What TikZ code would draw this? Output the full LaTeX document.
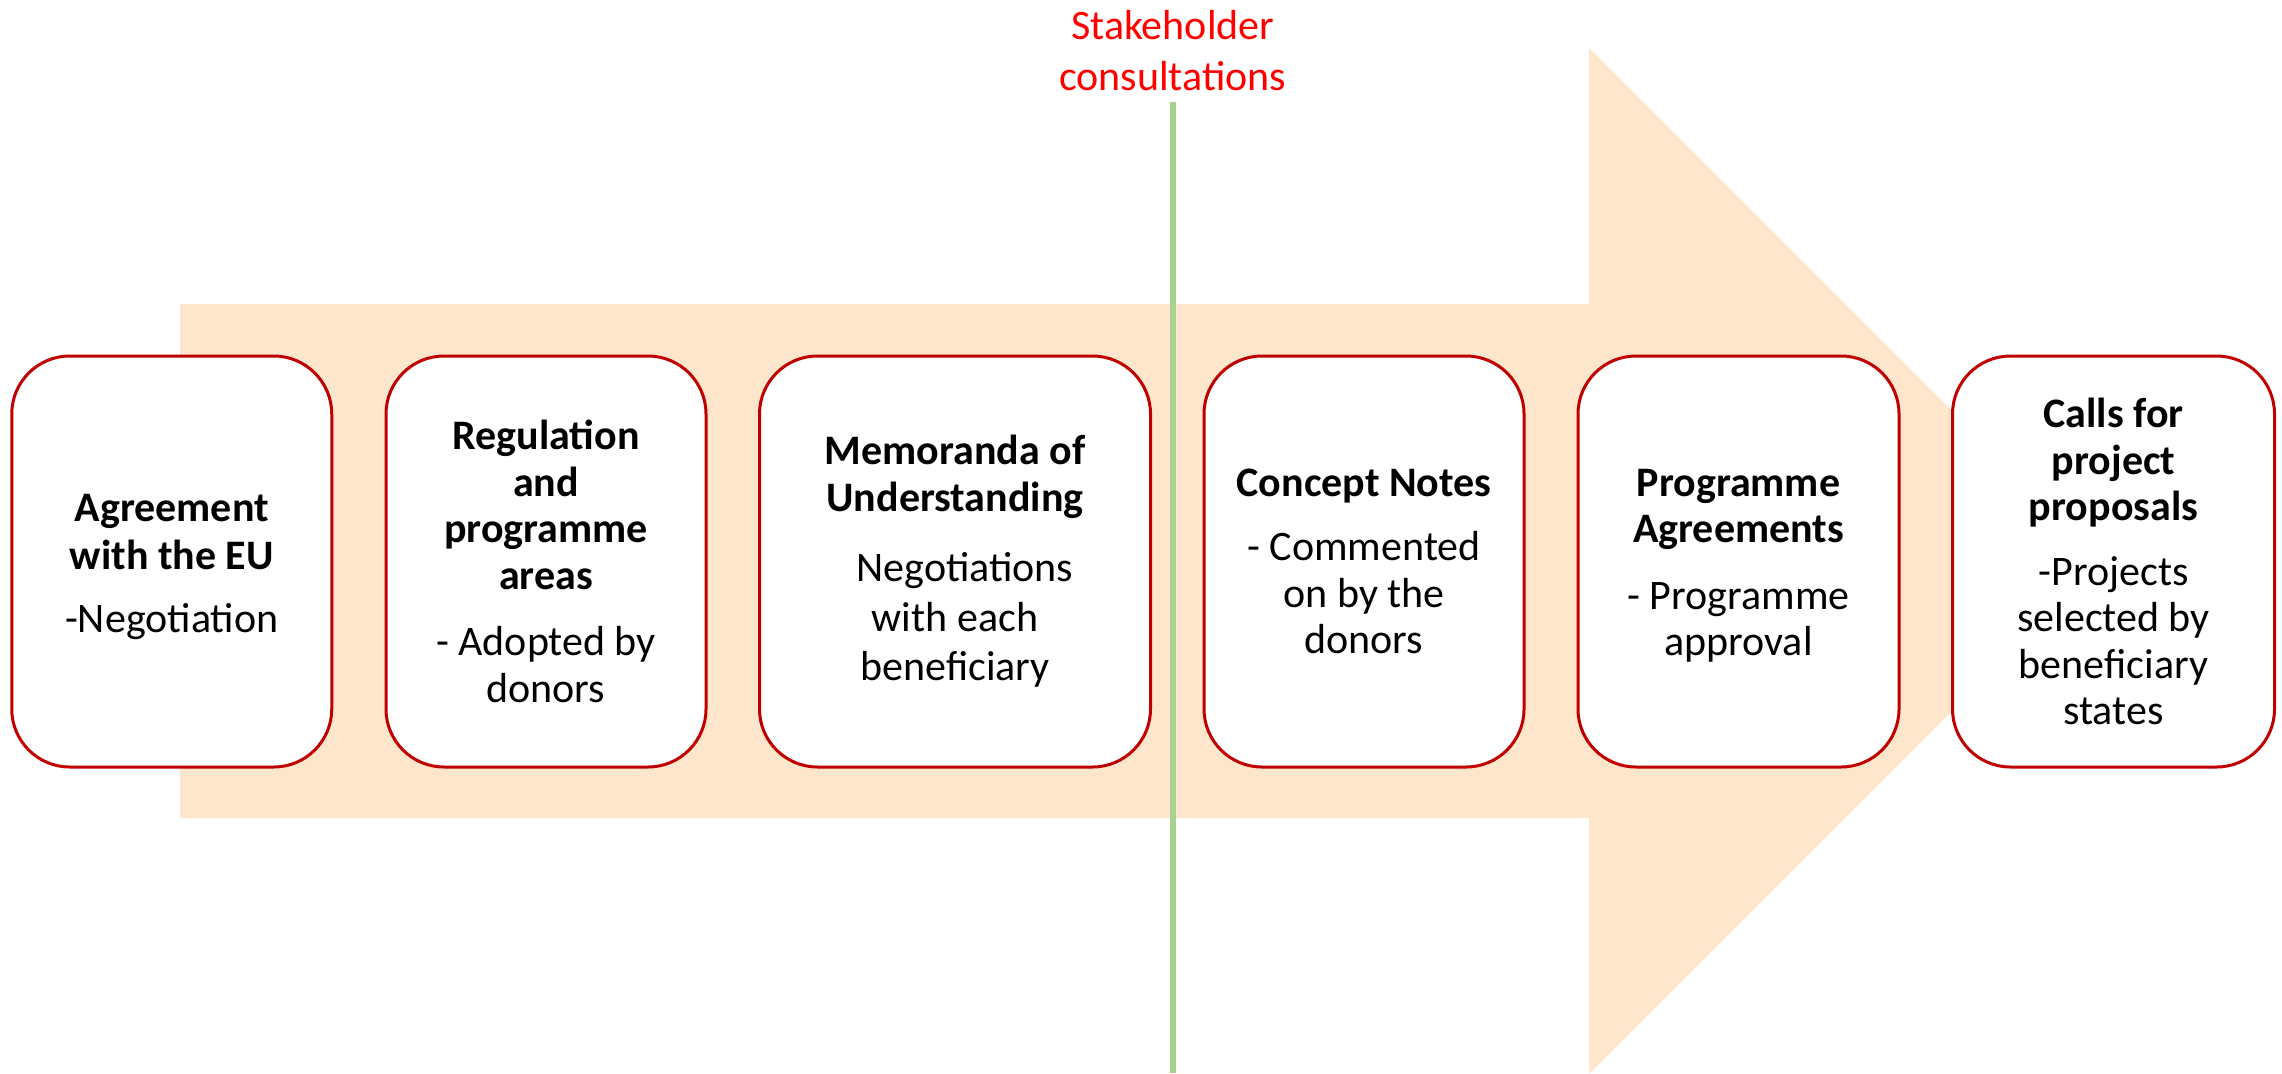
\documentclass[tikz,border=0pt]{standalone}
\usepackage{fontspec}
\setmainfont{Carlito}
\definecolor{peach}{HTML}{FDE6CC}
\definecolor{boxred}{HTML}{C00000}
\definecolor{linegreen}{HTML}{A9D18E}
\definecolor{labelred}{HTML}{FF0000}
\tikzset{
  stepbox/.style={draw=boxred, line width=3pt, fill=white, rounded corners=58pt,
    minimum height=411pt, align=center, inner sep=0pt,
    font=\fontsize{42}{46.5}\selectfont},
  arrowshape/.style={fill=peach, draw=none},
  sepline/.style={draw=linegreen, line width=6pt},
  stakelabel/.style={text=labelred, align=center, inner sep=0pt,
    font=\fontsize{42}{51}\selectfont}
}
\begin{document}
\begin{tikzpicture}[x=1pt,y=-1pt]
\useasboundingbox (0,0) rectangle (2282,1073);
% big background arrow
\fill[arrowshape] (180,304) -- (1589,304) -- (1589,48) -- (2102,561)
  -- (1589,1074) -- (1589,818) -- (180,818) -- cycle;
% label and separator line
\node[stakelabel] (stake) at (1172.7,51) {Stakeholder\\consultations};
\coordinate (lineTop) at (1172.7,102);
\coordinate (lineBot) at (1172.7,1073);
\draw[sepline] (lineTop) -- (lineBot);
% steps
\node[stepbox, minimum width=320pt] (s1) at (171.75,561.5)
  {\rule{0pt}{38pt}\textbf{Agreement}\\[2pt]\textbf{with the EU}\\[16pt]-Negotiation};
\node[stepbox, minimum width=320pt] (s2) at (546,561.5)
  {\textbf{Regulation}\\\textbf{and}\\\textbf{programme}\\\textbf{areas}\\[20pt]- Adopted by\\donors};
\node[stepbox, minimum width=391pt] (s3) at (955,561.5)
  {\textbf{Memoranda of}\\\textbf{Understanding}\\[24pt]\hspace*{20pt}Negotiations\\[3pt]with each\\[3pt]beneficiary};
\node[stepbox, minimum width=320pt] (s4) at (1364,561.5)
  {\textbf{Concept Notes}\\[18pt]- Commented\\on by the\\donors};
\node[stepbox, minimum width=321pt] (s5) at (1738.5,561.5)
  {\rule{0pt}{36pt}\textbf{Programme}\\\textbf{Agreements}\\[20pt]- Programme\\approval};
\node[stepbox, minimum width=322pt] (s6) at (2113.5,561.5)
  {\textbf{Calls for}\\\textbf{project}\\\textbf{proposals}\\[18pt]-Projects\\selected by\\beneficiary\\states};
\end{tikzpicture}
\end{document}
